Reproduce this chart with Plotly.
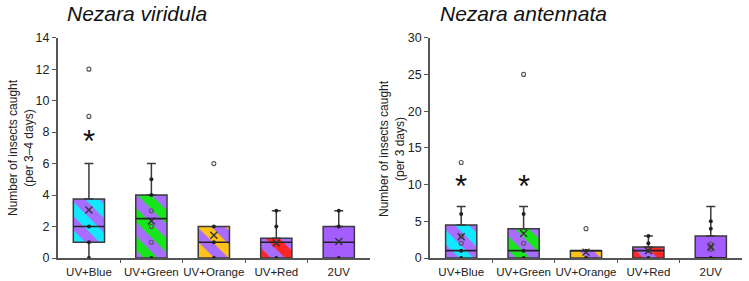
import plotly.graph_objects as go

W, H = 749, 281

categories = ["UV+Blue", "UV+Green", "UV+Orange", "UV+Red", "2UV"]
fill_colors = ["#14e8ff", "#18e61c", "#ffc21a", "#ff2626", "#a45eff"]
stripe_color = "#a86cff"
stripe_shape = ["\\", "\\", "\\", "\\", ""]

# Nezara viridula (left)
vir_q1 = [1, 0, 0, 0, 0]
vir_med = [2, 2.5, 1, 1, 1]
vir_q3 = [3.75, 4, 2, 1.25, 2]
vir_lo = [0, 0, 0, 0, 0]
vir_hi = [6, 6, 2, 3, 3]
vir_mean = [3.05, 2.35, 1.45, 0.95, 1.05]
vir_filled = [[0, 1, 2], [0, 4, 5], [0, 1, 2], [0, 2, 3], [0, 2, 3]]
vir_open = [[9, 12], [1, 2, 3], [6], [], []]
vir_star = [7.6, None, None, None, None]
vir_yticks = [0, 2, 4, 6, 8, 10, 12, 14]

# Nezara antennata (right)
ant_q1 = [0, 0, 0, 0, 0]
ant_med = [1, 1, 1, 1, 0]
ant_q3 = [4.5, 4.0, 1.0, 1.5, 3.0]
ant_lo = [0, 0, 0, 0, 0]
ant_hi = [7, 7, 1, 3, 7]
ant_mean = [2.9, 3.35, 0.8, 1.0, 1.5]
ant_filled = [[0, 1, 6], [0, 1, 6], [0, 1], [0, 1, 2, 3], [0, 4, 5]]
ant_open = [[2, 3, 13], [2, 25], [4], [], [1.2, 1.5, 1.9]]
ant_star = [10.2, 10.2, None, None, None]
ant_yticks = [0, 5, 10, 15, 20, 25, 30]

LINE = "#3a3a3a"
AX = "#555555"
FONT = "Liberation Sans, Arial, sans-serif"
BOXW = 0.5

fig = go.Figure()


def add_panel(sfx, q1, med, q3, lo, hi, mean, filled, opn):
    xa, ya = "x" + sfx, "y" + sfx
    idx = list(range(len(categories)))
    # boxes
    for i in idx:
        fig.add_trace(go.Bar(
            x=[i], y=[q3[i] - q1[i]], base=[q1[i]], width=BOXW,
            marker=dict(color=fill_colors[i],
                        line=dict(color=LINE, width=1.5),
                        pattern=dict(shape=stripe_shape[i], fgcolor=stripe_color,
                                     bgcolor=fill_colors[i], size=20, solidity=0.5,
                                     fillmode="replace")),
            xaxis=xa, yaxis=ya, showlegend=False, hoverinfo="skip"))
    # upper whiskers
    up = [i for i in idx if hi[i] > q3[i]]
    if up:
        fig.add_trace(go.Scatter(
            x=up, y=[q3[i] for i in up], mode="markers",
            marker=dict(size=1, color="rgba(0,0,0,0)"),
            error_y=dict(type="data", symmetric=False,
                         array=[hi[i] - q3[i] for i in up],
                         arrayminus=[0 for i in up],
                         width=4.5, thickness=1.5, color=LINE),
            xaxis=xa, yaxis=ya, showlegend=False, hoverinfo="skip"))
    dn = [i for i in idx if q1[i] > lo[i]]
    if dn:
        fig.add_trace(go.Scatter(
            x=dn, y=[q1[i] for i in dn], mode="markers",
            marker=dict(size=1, color="rgba(0,0,0,0)"),
            error_y=dict(type="data", symmetric=False,
                         array=[0 for i in dn],
                         arrayminus=[q1[i] - lo[i] for i in dn],
                         width=0, thickness=1.5, color=LINE),
            xaxis=xa, yaxis=ya, showlegend=False, hoverinfo="skip"))
    # medians
    mx, my = [], []
    for i in idx:
        mx += [i - BOXW / 2, i + BOXW / 2, None]
        my += [med[i], med[i], None]
    fig.add_trace(go.Scatter(x=mx, y=my, mode="lines",
                             line=dict(color="#222222", width=1.6),
                             xaxis=xa, yaxis=ya, showlegend=False, hoverinfo="skip"))
    # points
    fx, fy, ox, oy = [], [], [], []
    for i in idx:
        fx += [i] * len(filled[i]); fy += filled[i]
        ox += [i] * len(opn[i]); oy += opn[i]
    fig.add_trace(go.Scatter(x=fx, y=fy, mode="markers",
                             marker=dict(symbol="circle", size=4, color="#222222"),
                             xaxis=xa, yaxis=ya, showlegend=False, hoverinfo="skip"))
    fig.add_trace(go.Scatter(x=ox, y=oy, mode="markers",
                             marker=dict(symbol="circle-open", size=4,
                                         color="#555555", line=dict(width=1.1)),
                             xaxis=xa, yaxis=ya, showlegend=False, hoverinfo="skip"))
    # means
    fig.add_trace(go.Scatter(x=idx, y=mean, mode="markers",
                             marker=dict(symbol="x-thin-open", size=7,
                                         color="#333333", line=dict(width=1.4)),
                             xaxis=xa, yaxis=ya, showlegend=False, hoverinfo="skip"))


add_panel("", vir_q1, vir_med, vir_q3, vir_lo, vir_hi, vir_mean, vir_filled, vir_open)
add_panel("2", ant_q1, ant_med, ant_q3, ant_lo, ant_hi, ant_mean, ant_filled, ant_open)

annotations = []
for sfx, stars in (("", vir_star), ("2", ant_star)):
    for i, s in enumerate(stars):
        if s is not None:
            annotations.append(dict(x=i, y=s, xref="x" + sfx, yref="y" + sfx,
                                    text="*", showarrow=False,
                                    font=dict(family=FONT, size=31, color="#111"),
                                    yshift=-3))

# titles
annotations.append(dict(x=65 / W, y=1 - 14 / H, xref="paper", yref="paper",
                        text="<i>Nezara viridula</i>", showarrow=False,
                        xanchor="left", yanchor="middle",
                        font=dict(family=FONT, size=21, color="#111")))
annotations.append(dict(x=438 / W, y=1 - 14 / H, xref="paper", yref="paper",
                        text="<i>Nezara antennata</i>", showarrow=False,
                        xanchor="left", yanchor="middle",
                        font=dict(family=FONT, size=21, color="#111")))
# y titles
annotations.append(dict(x=21 / W, y=1 - 148 / H, xref="paper", yref="paper",
                        text="Number of insects caught<br>(per 3\u20134 days)",
                        showarrow=False, textangle=-90,
                        xanchor="center", yanchor="middle",
                        font=dict(family=FONT, size=12, color="#222")))
annotations.append(dict(x=(370 + 22) / W, y=1 - 148 / H, xref="paper", yref="paper",
                        text="Number of insects caught<br>(per 3 days)",
                        showarrow=False, textangle=-90,
                        xanchor="center", yanchor="middle",
                        font=dict(family=FONT, size=12, color="#222")))

ydom = [1 - 258 / H, 1 - 37.7 / H]


def xaxis(dom):
    return dict(domain=dom, range=[-0.5, 4.5], tickvals=list(range(5)),
                ticktext=categories, ticks="", showgrid=False, zeroline=False,
                showline=True, linecolor=AX, linewidth=1.5, tickangle=0,
                automargin=False, ticklabelstandoff=2,
                tickfont=dict(family=FONT, size=11.5, color="#222"),
                minor=dict(tickvals=[0.5, 1.5, 2.5, 3.5], ticks="outside",
                           ticklen=3, tickcolor=AX, tickwidth=1),
                fixedrange=True)


def yaxis(anchor, ticks, top):
    return dict(domain=ydom, range=[0, top], tickvals=ticks, anchor=anchor,
                ticks="outside", ticklen=4, tickcolor=AX, tickwidth=1,
                showgrid=False, zeroline=False, showline=True, linecolor=AX,
                linewidth=1.5, automargin=False,
                tickfont=dict(family=FONT, size=12.5, color="#222"),
                fixedrange=True)


fig.update_layout(
    width=W, height=H, margin=dict(l=0, r=0, t=0, b=0, autoexpand=False),
    paper_bgcolor="white", plot_bgcolor="white",
    barmode="overlay", showlegend=False,
    xaxis=dict(**xaxis([57.7 / W, 370 / W]), anchor="y"),
    yaxis=yaxis("x", vir_yticks, 14),
    xaxis2=dict(**xaxis([430 / W, 742 / W]), anchor="y2"),
    yaxis2=yaxis("x2", ant_yticks, 30),
    annotations=annotations,
)

fig.write_html("out.html")
